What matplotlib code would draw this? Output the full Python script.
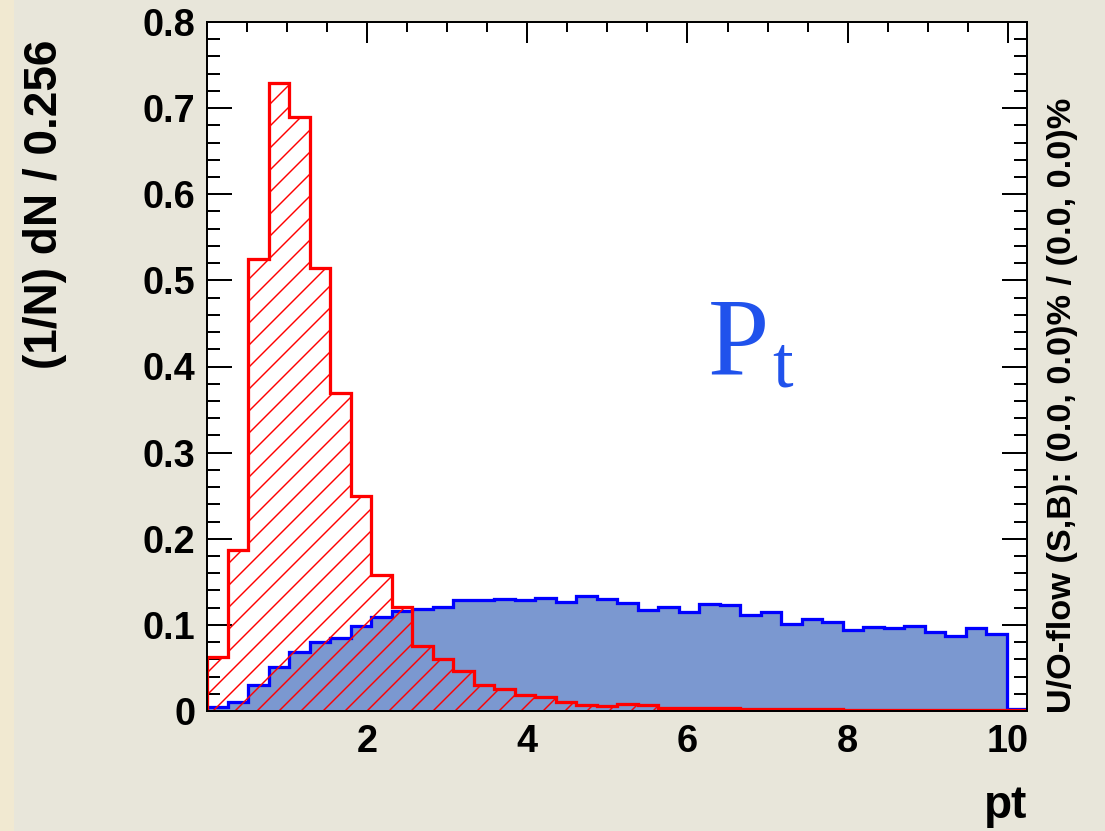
import numpy as np
import matplotlib
matplotlib.use("Agg")
import matplotlib.pyplot as plt
from matplotlib.ticker import MultipleLocator, FuncFormatter
from matplotlib.patches import Rectangle
from matplotlib.collections import LineCollection

# binning: 40 bins of 0.256 starting at 0
x_min = 0.0
bin_width = 0.256
n_bins = 40

# signal (blue, filled)
sig = [0.005, 0.011, 0.030, 0.051, 0.068, 0.080, 0.085, 0.099, 0.109, 0.116,
       0.118, 0.121, 0.129, 0.129, 0.130, 0.129, 0.131, 0.126, 0.134, 0.130,
       0.125, 0.117, 0.121, 0.115, 0.124, 0.123, 0.112, 0.115, 0.101, 0.107,
       0.103, 0.094, 0.098, 0.096, 0.099, 0.092, 0.087, 0.096, 0.089, 0.002]

# background (red, hatched)
bkg = [0.063, 0.187, 0.525, 0.729, 0.690, 0.514, 0.369, 0.250, 0.158, 0.121,
       0.075, 0.060, 0.046, 0.030, 0.026, 0.019, 0.016, 0.011, 0.007, 0.006,
       0.008, 0.007, 0.004, 0.004, 0.003, 0.003, 0.002, 0.002, 0.002, 0.002,
       0.002, 0.001, 0.001, 0.001, 0.001, 0.001, 0.001, 0.001, 0.001, 0.001]

x_ticks = [2, 4, 6, 8, 10]
y_ticks = [0.0, 0.1, 0.2, 0.3, 0.4, 0.5, 0.6, 0.7, 0.8]

edges = x_min + bin_width * np.arange(n_bins + 1)

DPI = 130
W, H = 1105, 831
AX_W, AX_H = 820, 689
font = ['Liberation Sans', 'DejaVu Sans']

fig = plt.figure(figsize=(W / DPI, H / DPI), dpi=DPI, facecolor='#E8E6DA')
fig.patches.append(Rectangle((0, 0), 14 / W, 1, transform=fig.transFigure,
                             facecolor='#F1E9D1', edgecolor='none', zorder=0))

ax = fig.add_axes([207 / W, (H - 711) / H, AX_W / W, AX_H / H])
ax.set_facecolor('white')

ax.stairs(sig, edges, fill=True, facecolor='#7B98D0', edgecolor='#0000FF',
          linewidth=1.8, zorder=2)
red = ax.stairs(bkg, edges, fill=True, facecolor='none', edgecolor='#FF0000',
                linewidth=1.8, zorder=4)

# ROOT-style 3005 hatch: 45 deg lines, ~22 px apart vertically, clipped to the histogram
step = 22
segs = []
for c in np.arange(-AX_W, AX_H, step):
    segs.append([(0, c / AX_H), (1, (AX_W + c) / AX_H)])
hatch = LineCollection(segs, colors='#FF0000', linewidths=0.8,
                       transform=ax.transAxes, zorder=3)
ax.add_collection(hatch)
hatch.set_clip_path(red)

ax.set_xlim(edges[0], edges[-1])
ax.set_ylim(0, 0.8)

ax.set_xticks(x_ticks)
ax.xaxis.set_minor_locator(MultipleLocator(0.5))
ax.set_yticks(y_ticks)
ax.yaxis.set_minor_locator(MultipleLocator(0.02))
ax.yaxis.set_major_formatter(FuncFormatter(lambda v, p: f'{v:g}'))

ax.tick_params(which='both', direction='in', top=True, right=True, width=1.1,
               colors='black')
ax.tick_params(axis='x', which='major', length=11.6, pad=7)
ax.tick_params(axis='x', which='minor', length=5.5)
ax.tick_params(axis='y', which='major', length=13.8, pad=6.5)
ax.tick_params(axis='y', which='minor', length=7.2)
for lab in ax.get_xticklabels() + ax.get_yticklabels():
    lab.set_fontfamily(font)
    lab.set_fontweight('bold')
    lab.set_fontsize(21)
for sp in ax.spines.values():
    sp.set_linewidth(1.1)
    sp.set_zorder(5)

fig.text(45 / W, (H - 40) / H, '(1/N) dN / 0.256', rotation=90, ha='center',
         va='top', fontsize=25.5, fontweight='bold', family=font)
fig.text(1027 / W, (H - 818) / H, 'pt', ha='right', va='baseline',
         fontsize=25.5, fontweight='bold', family=font)
fig.text(1063 / W, (H - 713) / H,
         'U/O-flow (S,B): (0.0, 0.0)% / (0.0, 0.0)%', rotation=90,
         ha='center', va='bottom', fontsize=19, fontweight='bold', family=font)

serif = ['Liberation Serif', 'DejaVu Serif']
fig.text(708 / W, (H - 374) / H, 'P', ha='left', va='baseline',
         fontsize=61, color='#2052EC', family=serif)
fig.text(772 / W, (H - 387) / H, 't', ha='left', va='baseline',
         fontsize=41, color='#2052EC', family=serif)

fig.savefig('out.png', dpi=DPI, facecolor=fig.get_facecolor())
